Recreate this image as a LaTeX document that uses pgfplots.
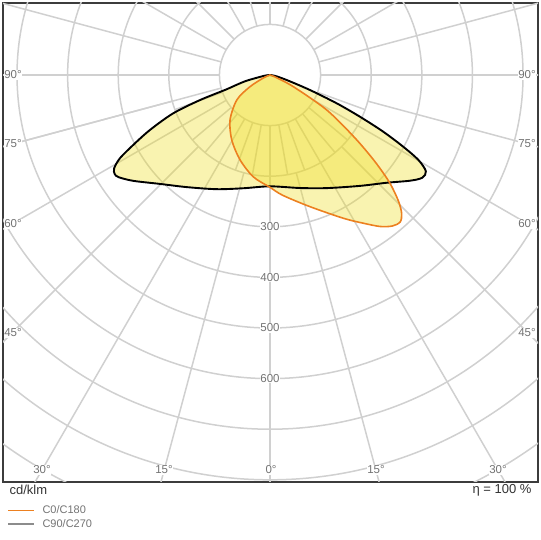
\documentclass[border=0pt]{standalone}
\usepackage{fontspec}
\setmainfont{Liberation Sans}
\usepackage{pgfplots}
\usepackage{pgfplotstable}
\pgfplotsset{compat=1.18}
\definecolor{gridc}{RGB}{208,208,208}
\definecolor{framec}{RGB}{60,60,60}
\definecolor{orangec}{RGB}{236,128,32}
\definecolor{fillc}{RGB}{238,220,30}
\definecolor{labc}{RGB}{115,115,115}
\definecolor{legc}{RGB}{140,140,140}

% gamma (deg from nadir, C180/C270 side negative), intensity (cd/klm)
\pgfplotstableread{
g I
-90 0
-82 12
-76.3 47
-73.5 70
-71.7 92
-70.3 147
-68.4 206
-65.4 261
-62.9 304
-61 339
-59.1 359
-57.5 364
-56 361
-52.3 342
-45.3 306
-36.6 276
-25 249
-13.3 230
0 220
14.8 231
26.6 250
39 282
47.3 314
53 347
56 363
58.3 362
60.2 338
61.7 299
63.4 250
65.1 196
67 143
69.4 84
73.3 34
80 10
90 0
}\cninety

\pgfplotstableread{
g I
-90 0
-66 14
-59.7 46
-53.1 82
-41.6 119
-30.5 149
-19.4 178
-9.3 204
0 222
6 239
16.9 272
27.1 318
32 345
36 370
39 384
41.5 388
43.5 378
45.5 356
48 318
50.5 268
53.5 208
58.3 132
63.3 52
68 12
90 0
}\czero

\begin{document}
\begin{tikzpicture}[x=1pt,y=1pt]
\useasboundingbox (0,0) rectangle (540,540);
\begin{axis}[
  at={(3pt,58pt)}, anchor=south west,
  width=535pt, height=479pt, scale only axis,
  xmin=-527.7, xmax=529.6, ymin=-804.3, ymax=142.3,
  xtick=\empty, ytick=\empty,
  axis line style={draw=framec, line width=1.6pt},
  ldc/.style={data cs=polar, smooth, tension=0.5},
]
% grid circles
\pgfplotsinvokeforeach{100,200,...,1000}{
  \draw[gridc, line width=1.5pt] (axis cs:0,0) circle[radius=#1];
}
% fine radial lines near the nadir
\pgfplotsinvokeforeach{-160,-150,...,-20}{
  \draw[gridc, line width=1.5pt] (axis cs:{100*cos(#1)},{100*sin(#1)}) -- (axis cs:{200*cos(#1)},{200*sin(#1)});
}
% 15 degree radial lines
\pgfplotsinvokeforeach{-165,-150,...,-15}{
  \draw[gridc, line width=1.5pt] (axis cs:{200*cos(#1)},{200*sin(#1)}) -- (axis cs:{1200*cos(#1)},{1200*sin(#1)});
}
\pgfplotsinvokeforeach{0,15,...,180,-180,-165}{
  \draw[gridc, line width=1.5pt] (axis cs:{100*cos(#1)},{100*sin(#1)}) -- (axis cs:{1200*cos(#1)},{1200*sin(#1)});
}
\addplot[ldc, draw=none, fill=fillc, fill opacity=0.35] table[x expr=\thisrow{g}-90, y=I] {\cninety};
\addplot[ldc, draw=none, fill=fillc, fill opacity=0.35] table[x expr=\thisrow{g}-90, y=I] {\czero};
\addplot[ldc, draw=black, line width=1.9pt] table[x expr=\thisrow{g}-90, y=I] {\cninety};
\addplot[ldc, draw=orangec, line width=1.6pt] table[x expr=\thisrow{g}-90, y=I] {\czero};
% intensity labels
\pgfplotsinvokeforeach{300,400,500,600}{
  \node[fill=white, inner sep=0.6pt, text=labc, font=\fontsize{11.5}{13}\selectfont] at (axis cs:0,-#1) {#1};
}
\end{axis}
% angle labels
\tikzset{al/.style={fill=white, inner sep=0.6pt, text=labc, font=\fontsize{11.5}{13}\selectfont}}
\node[al] at (13,465) {90°};   \node[al] at (527,465) {90°};
\node[al] at (13,396) {75°};   \node[al] at (527,396) {75°};
\node[al] at (13,316) {60°};   \node[al] at (527,316) {60°};
\node[al] at (13,207) {45°};   \node[al] at (527,207) {45°};
\node[al] at (42,70) {30°};    \node[al] at (498,70) {30°};
\node[al] at (164,70) {15°};   \node[al] at (376,70) {15°};
\node[al] at (271,70) {0°};
% units and efficiency
\node[anchor=west, text=black!80, font=\fontsize{13}{15}\selectfont] at (6,50) {cd/klm};
\node[anchor=east, text=black!80, font=\fontsize{13}{15}\selectfont] at (535,50) {η = 100 \%};
% legend
\draw[orangec, line width=0.8pt] (8,30) -- (34,30);
\node[anchor=west, text=labc, font=\fontsize{11}{13}\selectfont] at (39,30) {C0/C180};
\draw[legc, line width=1.6pt] (8,16) -- (34,16);
\node[anchor=west, text=labc, font=\fontsize{11}{13}\selectfont] at (39,16) {C90/C270};
\end{tikzpicture}
\end{document}
